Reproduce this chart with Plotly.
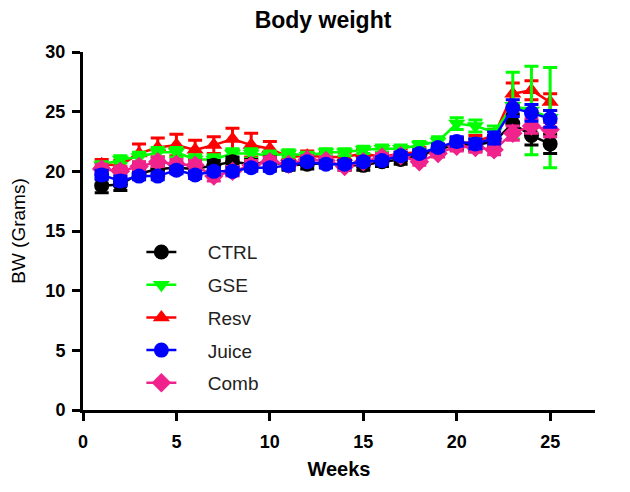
import plotly.graph_objects as go

weeks = list(range(1, 26))

ctrl = [18.8, 18.9, 19.8, 20.2, 20.3, 20.2, 20.5, 20.8, 20.6, 20.8, 20.5, 20.6, 20.7,
        20.5, 20.5, 20.8, 21.0, 21.3, 21.8, 22.3, 22.2, 22.5, 24.0, 23.0, 22.3]
ctrl_err = [0.6, 0.5, 0.4, 0.4, 0.4, 0.4, 0.4, 0.4, 0.4, 0.4, 0.4, 0.4, 0.4,
            0.4, 0.4, 0.4, 0.4, 0.4, 0.4, 0.5, 0.5, 0.5, 0.8, 0.8, 0.8]

gse = [20.5, 21.0, 21.2, 21.6, 21.6, 21.0, 21.0, 21.5, 21.5, 21.3, 21.5, 21.3, 21.6,
       21.6, 21.8, 21.9, 21.9, 22.2, 22.5, 24.0, 23.8, 23.3, 25.5, 25.1, 24.5]
gse_err = [0.3, 0.3, 0.4, 0.4, 0.4, 0.4, 0.4, 0.4, 0.4, 0.4, 0.3, 0.3, 0.3,
           0.3, 0.3, 0.3, 0.3, 0.3, 0.4, 0.5, 0.5, 0.5, 2.8, 3.7, 4.2]

resv = [20.6, 20.5, 21.5, 22.0, 22.2, 21.8, 22.2, 22.7, 22.2, 21.9, 21.2, 21.3, 21.2,
        21.2, 21.5, 21.2, 21.5, 21.6, 21.8, 22.3, 22.5, 23.0, 26.5, 26.8, 25.8]
resv_err = [0.4, 0.4, 0.8, 0.8, 0.9, 0.8, 0.7, 0.9, 1.0, 0.6, 0.5, 0.4, 0.4,
            0.4, 0.4, 0.4, 0.4, 0.4, 0.4, 0.5, 0.5, 0.5, 0.9, 0.8, 0.7]

juice = [19.7, 19.2, 19.6, 19.6, 20.1, 19.7, 20.0, 20.0, 20.3, 20.3, 20.5, 20.8, 20.6,
         20.6, 20.8, 20.9, 21.3, 21.5, 22.0, 22.5, 22.3, 22.8, 25.3, 24.9, 24.4]
juice_err = [0.4, 0.4, 0.3, 0.3, 0.3, 0.3, 0.3, 0.3, 0.3, 0.3, 0.3, 0.3, 0.3,
             0.3, 0.3, 0.3, 0.3, 0.3, 0.3, 0.4, 0.4, 0.5, 0.7, 0.7, 0.7]

comb = [20.2, 20.0, 20.4, 20.8, 20.6, 20.5, 19.6, 20.0, 20.5, 20.8, 20.6, 21.0, 20.9,
        20.4, 20.8, 21.2, 21.3, 20.8, 21.5, 22.1, 22.0, 21.8, 23.2, 23.8, 23.5]
comb_err = [0.4, 0.4, 0.4, 0.4, 0.4, 0.4, 0.4, 0.4, 0.4, 0.4, 0.3, 0.3, 0.3,
            0.3, 0.3, 0.3, 0.3, 0.3, 0.3, 0.4, 0.4, 0.4, 0.6, 0.6, 0.6]

# (name, values, errors, colour, symbol, legend rank); listed in drawing order
series = [
    ("Resv", resv, resv_err, "#ff0000", "triangle-up", 3),
    ("GSE", gse, gse_err, "#00ff00", "triangle-down", 2),
    ("CTRL", ctrl, ctrl_err, "#000000", "circle", 1),
    ("Comb", comb, comb_err, "#f0238c", "diamond", 5),
    ("Juice", juice, juice_err, "#0000ff", "circle", 4),
]

fig = go.Figure()
for name, vals, errs, color, symbol, rank in series:
    fig.add_trace(go.Scatter(
        x=weeks, y=vals, name="\u00a0" * 5 + name, mode="lines+markers",
        line=dict(color=color, width=2.5),
        marker=dict(color=color, symbol=symbol, size=15),
        error_y=dict(type="data", array=errs, color=color, thickness=3, width=7),
        legendrank=rank, legendgroup=name,
    ))

axis_common = dict(
    showline=True, linecolor="black", linewidth=3,
    ticks="outside", tickcolor="black", ticklen=8, tickwidth=3,
    showgrid=False, zeroline=False, automargin=False,
    tickfont=dict(family="Arial, Liberation Sans", size=18, color="black", weight="bold"),
)

# the page body adds an 8px offset, so margins are trimmed by that much
fig.update_layout(
    width=630, height=492,
    margin=dict(l=75, r=43, t=44, b=90),
    paper_bgcolor="white", plot_bgcolor="white",
    title=dict(text="<b>Body weight</b>", x=0.5, xanchor="center", y=0.975, yanchor="middle",
               automargin=False,
               font=dict(family="Arial, Liberation Sans", size=23, color="black")),
    xaxis=dict(range=[0, 27.4], tickvals=[0, 5, 10, 15, 20, 25], ticklabelstandoff=5,
               title=dict(text="<b>Weeks</b>", standoff=12,
                          font=dict(family="Arial, Liberation Sans", size=20, color="black")),
               **axis_common),
    yaxis=dict(range=[0, 30], tickvals=[0, 5, 10, 15, 20, 25, 30], ticklabelstandoff=3,
               title=dict(text="BW (Grams)", standoff=18,
                          font=dict(family="Arial, Liberation Sans", size=19, color="black")),
               **axis_common),
    legend=dict(x=0.114, y=0.494, xanchor="left", yanchor="top",
                bgcolor="rgba(0,0,0,0)", tracegroupgap=5,
                font=dict(family="Arial, Liberation Sans", size=19, color="#222")),
    showlegend=True,
)

fig.write_html("out.html")
